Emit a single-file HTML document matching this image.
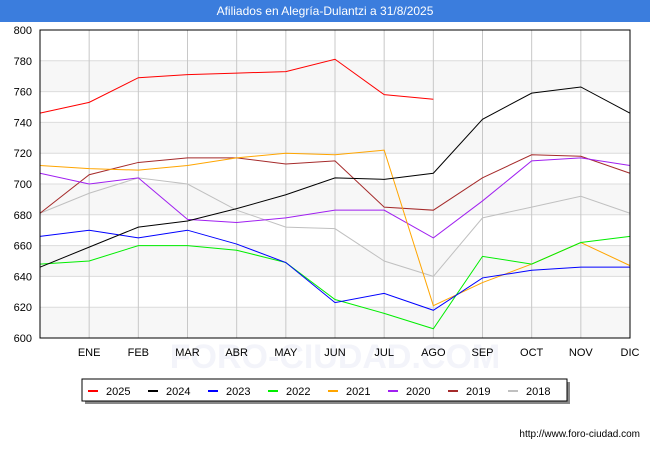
<!DOCTYPE html>
<html><head><meta charset="utf-8"><style>
body{margin:0;width:650px;height:450px;background:#fff;font-family:"Liberation Sans",sans-serif;overflow:hidden;position:relative}
#title{position:absolute;left:0;top:0;width:650px;height:22px;background:#3b7ddd;color:#fff;font-size:12px;text-align:center;line-height:22px}
svg{position:absolute;left:0;top:0}
</style></head><body>
<div id="title">Afiliados en Alegría-Dulantzi a 31/8/2025</div>
<svg id="chart" width="650" height="450"></svg>
<script>
const months=["","ENE","FEB","MAR","ABR","MAY","JUN","JUL","AGO","SEP","OCT","NOV","DIC"];
const yTicks=[600,620,640,660,680,700,720,740,760,780,800];
const seriesNames=["2025","2024","2023","2022","2021","2020","2019","2018"];
const seriesColors=["#ff0000","#000000","#0000ff","#00ee00","#ffa500","#a020f0","#a52a2a","#c0c0c0"];
const s2025=[746,753,769,771,772,773,781,758,755];
const s2024=[646,659,672,676,684,693,704,703,707,742,759,763,746];
const s2023=[666,670,665,670,661,649,623,629,618,639,644,646,646];
const s2022=[648,650,660,660,657,649,625,616,606,653,648,662,666];
const s2021=[712,710,709,712,717,720,719,722,621,636,648,662,647];
const s2020=[707,700,704,677,675,678,683,683,665,689,715,717,712];
const s2019=[681,706,714,717,717,713,715,685,683,704,719,718,707];
const s2018=[681,694,704,700,683,672,671,650,640,678,685,692,681];
const allSeries=[s2025,s2024,s2023,s2022,s2021,s2020,s2019,s2018];
const NS="http://www.w3.org/2000/svg";
const svg=document.getElementById('chart');
const L=40,R=630,T=30,B=338;
const x=i=>L+(R-L)*i/12;
const y=v=>B-(v-600)/200*(B-T);
function mk(tag,attrs,parent){const e=document.createElementNS(NS,tag);for(const k in attrs)e.setAttribute(k,attrs[k]);(parent||svg).appendChild(e);return e;}
for(let i=0;i<yTicks.length-1;i++){
  if(i%2===0){const b=mk('rect',{x:L,y:y(yTicks[i+1]),width:R-L,height:y(yTicks[i])-y(yTicks[i+1]),fill:'#f7f7f7'});
  
  }
}
const wm=mk('text',{x:335,y:368,'text-anchor':'middle','font-size':34,fill:'#f3f4fa','font-weight':'bold'});
wm.textContent='FORO-CIUDAD.COM';


yTicks.forEach(v=>{
  const g=mk('line',{x1:L,x2:R,y1:y(v),y2:y(v),stroke:'#dcdcdc','stroke-width':1});
  
  
  const t=mk('text',{x:L-8,y:y(v)+4,'text-anchor':'end','font-size':11,fill:'#000'});
  t.textContent=v;
  
  
});
months.forEach((m,i)=>{
  if(i>0){const g=mk('line',{x1:x(i),x2:x(i),y1:T,y2:B,stroke:'#c8c8c8','stroke-width':1});
  
  
  const t=mk('text',{x:x(i),y:B+18,'text-anchor':'middle','font-size':11,fill:'#000'});
  t.textContent=m;
  
  }
});
for(let s=allSeries.length-1;s>=0;s--){
  const pts=allSeries[s].map((v,i)=>x(i)+','+y(v)).join(' ');
  const p=mk('polyline',{points:pts,fill:'none',stroke:seriesColors[s],'stroke-width':1});
  
  
}
const frame=mk('rect',{x:L,y:T,width:R-L,height:B-T,fill:'none',stroke:'#000','stroke-width':1});


const lg=mk('g',{});


mk('rect',{x:85,y:382,width:485,height:22,fill:'#888'},lg);
mk('rect',{x:82,y:379,width:485,height:22,fill:'#fff',stroke:'#000','stroke-width':1},lg);
const lx=[88,148,208,268,328,388,448,508];
seriesNames.forEach((n,i)=>{
  const g=mk('g',{},lg);
  
  
  mk('line',{x1:lx[i],x2:lx[i]+10,y1:391,y2:391,stroke:seriesColors[i],'stroke-width':2},g);
  const t=mk('text',{x:lx[i]+18,y:395,'font-size':11,fill:'#000'},g);
  t.textContent=n;
});
const u=mk('text',{x:640,y:437,'text-anchor':'end','font-size':10,fill:'#000'});
u.textContent='http://www.foro-ciudad.com';


</script>
</body></html>
